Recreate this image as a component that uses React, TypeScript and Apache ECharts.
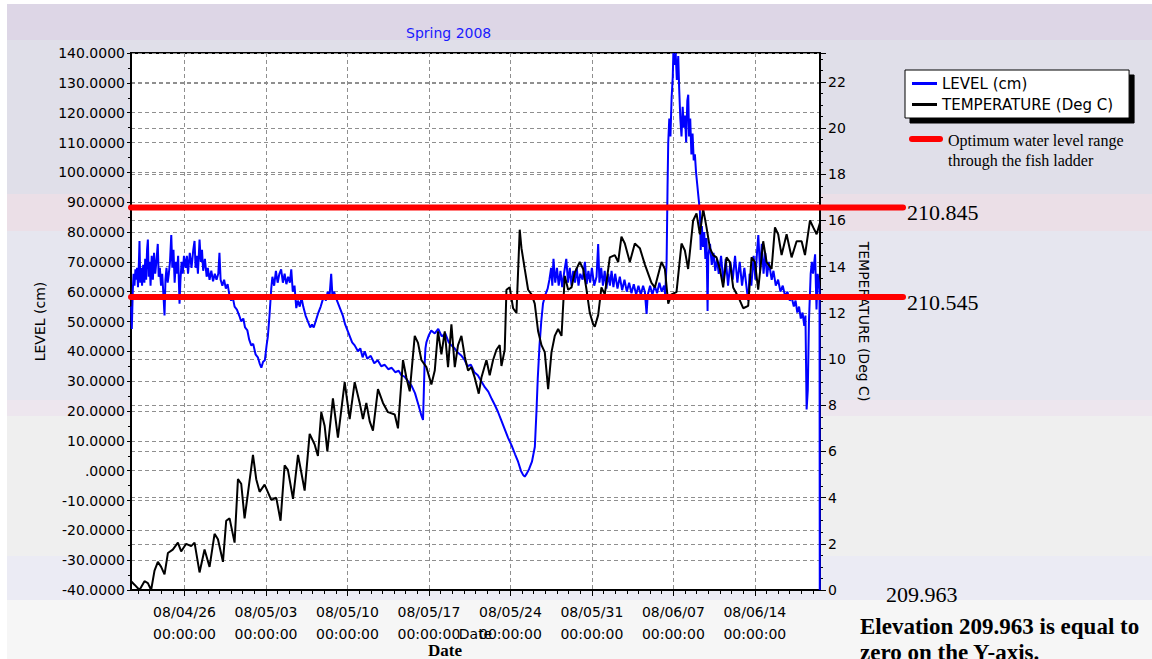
import React, { useEffect, useRef } from 'react';
import * as echarts from 'echarts';

// ---- time frame (days counted from 2008-04-21 00:00 UTC) ----
const START_UTC = Date.UTC(2008, 3, 21);
const DAY_MS = 86400000;
const X_MIN_DAY = 0.4;
const X_MAX_DAY = 59.6;
const weekTickDays = [5, 12, 19, 26, 33, 40, 47, 54];
const dayTickDays = [1, 2, 3, 4, 5, 6, 7, 8, 9, 10, 11, 12, 13, 14, 15, 16, 17, 18, 19, 20, 21, 22, 23, 24, 25, 26, 27, 28, 29, 30, 31, 32, 33, 34, 35, 36, 37, 38, 39, 40, 41, 42, 43, 44, 45, 46, 47, 48, 49, 50, 51, 52, 53, 54, 55, 56, 57, 58, 59];

// ---- axes ----
const levelAxis = { min: -40, max: 140, interval: 10 };
const tempAxis = { min: 0, max: 23.25, interval: 2 };

// ---- optimum range (cm above datum) and elevations ----
const optimumLevels = [88.2, 58.2];
const optimumLabels = ['210.845', '210.545'];
const datumElevation = '209.963';

// ---- LEVEL (cm): [day, value] ----
const levelSeries: [number, number][] = [
  [0.42, 55], [0.47, 47.5], [0.55, 60], [0.62, 66], [0.7, 62], [0.78, 67.5], [0.85, 64], [0.92, 68], [1.0, 61.5], [1.08, 70],
  [1.13, 77], [1.2, 63], [1.28, 68], [1.35, 62], [1.45, 69], [1.55, 63], [1.62, 71], [1.7, 64], [1.78, 74], [1.85, 77.5],
  [1.92, 65], [2.0, 70], [2.08, 62], [2.18, 72], [2.28, 64], [2.38, 73], [2.48, 66], [2.58, 70], [2.7, 76], [2.78, 65],
  [2.88, 68], [2.98, 62], [3.08, 66], [3.2, 58], [3.28, 52], [3.36, 64], [3.45, 68], [3.55, 63], [3.65, 66], [3.75, 70],
  [3.86, 79], [3.95, 68], [4.05, 74], [4.15, 63], [4.25, 70], [4.35, 66], [4.45, 72], [4.57, 56], [4.65, 64], [4.75, 70],
  [4.85, 66], [4.95, 72], [5.1, 68], [5.2, 72], [5.3, 66], [5.45, 73], [5.6, 68], [5.75, 74], [5.86, 77], [5.95, 68],
  [6.05, 72], [6.15, 66], [6.29, 77.5], [6.4, 70], [6.5, 74], [6.6, 67], [6.75, 71], [6.9, 65], [7.0, 68], [7.15, 64],
  [7.3, 67], [7.45, 63.5], [7.6, 66], [7.75, 64], [7.9, 66], [8.0, 73], [8.1, 64], [8.25, 62], [8.4, 64], [8.55, 61],
  [8.7, 62.5], [8.85, 59], [9.0, 57], [9.15, 58], [9.3, 55], [9.5, 54], [9.7, 52], [9.87, 50], [10.05, 51], [10.2, 48],
  [10.4, 47], [10.55, 44], [10.73, 42], [10.9, 42.5], [11.1, 39], [11.3, 38], [11.45, 36], [11.6, 34.5], [11.75, 36.5], [11.9, 37],
  [12.05, 42], [12.16, 45], [12.3, 52], [12.45, 61], [12.55, 65], [12.7, 62], [12.85, 67], [13.0, 63], [13.15, 66], [13.3, 67.5],
  [13.45, 63], [13.6, 66], [13.75, 62.5], [13.9, 65], [14.05, 63], [14.17, 67.5], [14.3, 60], [14.45, 62], [14.6, 54.5], [14.74, 57],
  [14.9, 55], [15.05, 58], [15.2, 55], [15.4, 52], [15.6, 50], [15.8, 48], [15.95, 49], [16.1, 48], [16.3, 50.5], [16.5, 53],
  [16.7, 55], [16.85, 57], [17.0, 59], [17.15, 57], [17.3, 60], [17.45, 58], [17.6, 66], [17.7, 59], [17.85, 60], [18.0, 58],
  [18.2, 56], [18.4, 54], [18.6, 52], [18.8, 49], [19.0, 47], [19.2, 45], [19.4, 43], [19.62, 42], [19.9, 40], [20.1, 41],
  [20.3, 38], [20.48, 40], [20.7, 37.5], [21.0, 38.5], [21.3, 36], [21.6, 37], [21.9, 35], [22.2, 35.5], [22.5, 34], [22.8, 34.5],
  [23.1, 33], [23.4, 33.5], [23.63, 32], [23.9, 31.5], [24.2, 30], [24.5, 28.5], [24.8, 26], [25.1, 22], [25.35, 18.5], [25.49, 17],
  [25.55, 25], [25.62, 35], [25.7, 41], [25.78, 43], [26.0, 45.5], [26.2, 47], [26.5, 46], [26.8, 47.5], [27.1, 45], [27.4, 46],
  [27.7, 43], [27.93, 42], [28.2, 41], [28.5, 39.5], [28.8, 38.5], [29.08, 37], [29.3, 35], [29.6, 35.5], [29.9, 33], [30.2, 32],
  [30.5, 30], [30.8, 28], [31.1, 26.5], [31.4, 24], [31.66, 22], [31.9, 20], [32.2, 17], [32.5, 14], [32.8, 11], [33.1, 8.5],
  [33.4, 5.5], [33.66, 3], [33.9, 0], [34.1, -1.5], [34.23, -2], [34.4, -1], [34.6, 0.5], [34.85, 3], [35.1, 8], [35.24, 20],
  [35.35, 31], [35.5, 42], [35.65, 50], [35.8, 56], [36.0, 59], [36.2, 61], [36.35, 64], [36.5, 68], [36.6, 62], [36.7, 71],
  [36.85, 63], [37.0, 68], [37.15, 62], [37.3, 67], [37.45, 61.5], [37.6, 66], [37.8, 71], [37.95, 63], [38.1, 68], [38.25, 62],
  [38.4, 67], [38.55, 63], [38.7, 68], [38.85, 62], [39.0, 66], [39.2, 64], [39.4, 70], [39.55, 62.5], [39.7, 67], [39.85, 63],
  [40.0, 68], [40.2, 62], [40.4, 65], [40.54, 76], [40.65, 63], [40.8, 68], [40.95, 62], [41.1, 67], [41.25, 61], [41.4, 66],
  [41.55, 62], [41.69, 67], [41.85, 61.5], [42.0, 66], [42.2, 61], [42.4, 65], [42.6, 60.5], [42.8, 64], [43.0, 60], [43.2, 63],
  [43.4, 59.5], [43.6, 62.5], [43.8, 59], [44.0, 62], [44.2, 59], [44.4, 62], [44.55, 60], [44.7, 52.5], [44.8, 59], [45.0, 62],
  [45.2, 59], [45.4, 62], [45.6, 59.5], [45.8, 63], [46.0, 60], [46.2, 62], [46.3, 59], [46.42, 70], [46.5, 95], [46.56, 110],
  [46.65, 118], [46.75, 112], [46.85, 125], [46.95, 132], [47.0, 140], [47.1, 136], [47.2, 140], [47.3, 131], [47.42, 139], [47.5, 128],
  [47.6, 118], [47.7, 112], [47.8, 122], [47.9, 115], [48.0, 119], [48.1, 110], [48.2, 124], [48.28, 126], [48.35, 112], [48.45, 118],
  [48.55, 106], [48.65, 113], [48.75, 104], [48.85, 106], [48.95, 100], [49.05, 96], [49.15, 92], [49.28, 87], [49.35, 74], [49.45, 82],
  [49.55, 75], [49.65, 80], [49.75, 71], [49.85, 78], [49.94, 53.5], [50.0, 72], [50.15, 76], [50.3, 69], [50.45, 73], [50.6, 67],
  [50.75, 71], [50.9, 66], [51.1, 72], [51.3, 63], [51.5, 71], [51.7, 62], [51.9, 70], [52.1, 64], [52.3, 72], [52.5, 63],
  [52.7, 70], [52.9, 62], [53.1, 68], [53.3, 61], [53.43, 57], [53.55, 66], [53.7, 62], [53.9, 72], [54.05, 64], [54.2, 74],
  [54.3, 79], [54.45, 67], [54.6, 76], [54.75, 66], [54.9, 73], [55.05, 65], [55.2, 70], [55.45, 64], [55.6, 67], [55.8, 62],
  [56.0, 64], [56.2, 60], [56.4, 62], [56.6, 58.5], [56.8, 60], [57.0, 57], [57.17, 58], [57.35, 55], [57.5, 57], [57.65, 53],
  [57.8, 55], [57.95, 51], [58.1, 53], [58.25, 48.5], [58.35, 52], [58.45, 20.5], [58.55, 27], [58.65, 50], [58.8, 66], [58.9, 70],
  [59.0, 66], [59.18, 72.5], [59.3, 54], [59.4, 66], [59.5, 63], [59.56, 60], [59.58, -40],
];

// ---- TEMPERATURE (Deg C): [day, value] ----
const tempSeries: [number, number][] = [
  [0.41, 0.38], [0.7, 0.23], [1.13, 0.0], [1.56, 0.38], [1.85, 0.3], [2.13, 0.0], [2.42, 0.84], [2.71, 1.22], [2.99, 1.0], [3.28, 0.68],
  [3.57, 1.6], [3.99, 1.75], [4.43, 2.05], [4.71, 1.67], [5.14, 2.0], [5.57, 1.9], [5.86, 2.05], [6.29, 0.76], [6.72, 1.75], [7.15, 1.0],
  [7.58, 2.43], [7.87, 2.2], [8.3, 1.22], [8.58, 3.0], [8.87, 3.1], [9.3, 2.05], [9.59, 4.8], [9.87, 4.6], [10.16, 3.1], [10.45, 4.2],
  [10.88, 5.85], [11.16, 4.8], [11.45, 4.25], [11.88, 4.56], [12.45, 3.9], [12.88, 4.0], [13.25, 3.0], [13.6, 5.4], [13.88, 5.2], [14.32, 3.95],
  [14.75, 5.85], [15.03, 5.1], [15.32, 4.3], [15.75, 6.76], [16.18, 6.3], [16.46, 5.8], [16.75, 7.7], [17.04, 7.1], [17.27, 6.0], [17.75, 8.3],
  [18.18, 6.6], [18.76, 9.0], [19.19, 7.4], [19.62, 9.0], [20.05, 8.1], [20.33, 7.4], [20.62, 8.1], [20.91, 7.3], [21.19, 6.9], [21.62, 8.7],
  [22.05, 8.1], [22.48, 7.7], [23.06, 7.6], [23.34, 7.0], [23.77, 9.96], [24.06, 9.2], [24.35, 8.6], [24.78, 11.0], [25.06, 10.7], [25.35, 9.96],
  [25.78, 9.65], [26.21, 8.9], [26.5, 9.5], [26.78, 11.2], [27.07, 10.2], [27.36, 11.2], [27.64, 9.65], [27.93, 11.5], [28.22, 9.65], [28.5, 10.6],
  [28.79, 11.0], [29.08, 10.1], [29.36, 9.5], [29.65, 9.65], [29.93, 9.2], [30.28, 8.5], [30.51, 9.2], [30.94, 9.96], [31.22, 9.3], [31.51, 9.96],
  [31.8, 10.4], [32.08, 10.6], [32.23, 9.7], [32.51, 10.4], [32.66, 13.0], [32.94, 13.1], [33.23, 12.2], [33.52, 12.0], [33.8, 15.6], [33.95, 14.8],
  [34.23, 13.9], [34.52, 13.0], [34.81, 12.8], [35.09, 12.4], [35.38, 11.2], [35.67, 10.6], [35.95, 10.3], [36.24, 8.7], [36.53, 10.3], [36.81, 11.0],
  [37.1, 11.3], [37.39, 11.0], [37.67, 13.6], [37.96, 13.0], [38.25, 13.1], [38.53, 13.75], [38.96, 14.2], [39.25, 13.9], [39.54, 13.0], [39.82, 12.0],
  [40.11, 11.5], [40.25, 11.4], [40.54, 11.9], [40.82, 13.1], [41.11, 12.8], [41.54, 14.4], [41.97, 14.5], [42.26, 14.2], [42.54, 15.3], [42.83, 15.0],
  [43.26, 14.2], [43.69, 15.0], [44.12, 14.8], [44.55, 14.1], [45.12, 13.3], [45.41, 13.1], [45.98, 14.2], [46.27, 13.9], [46.56, 12.4], [46.84, 12.8],
  [47.27, 12.9], [47.7, 15.0], [47.99, 14.7], [48.27, 13.9], [48.7, 16.0], [48.99, 16.3], [49.28, 15.4], [49.56, 16.5], [49.85, 15.7], [50.14, 14.8],
  [50.42, 14.5], [50.71, 14.4], [51.0, 13.9], [51.28, 13.1], [51.57, 14.4], [51.86, 14.2], [52.14, 13.1], [52.57, 12.7], [53.0, 12.2], [53.43, 12.3],
  [53.72, 14.4], [54.01, 14.2], [54.29, 13.0], [54.72, 15.1], [55.01, 14.2], [55.44, 13.9], [55.73, 15.7], [56.01, 15.4], [56.3, 14.5], [56.73, 15.4],
  [57.16, 14.4], [57.59, 15.1], [58.02, 15.1], [58.31, 14.5], [58.74, 16.0], [59.02, 15.7], [59.31, 15.4], [59.6, 15.9],
];

const SANS = 'DejaVu Sans';
const SERIF = 'Liberation Serif';

const pad2 = (n: number) => String(n).padStart(2, '0');
const dayLabel = (d: number) => {
  const t = new Date(START_UTC + Math.round(d) * DAY_MS);
  return `${pad2(t.getUTCFullYear() % 100)}/${pad2(t.getUTCMonth() + 1)}/${pad2(t.getUTCDate())}\n00:00:00`;
};

export default function App() {
  const ref = useRef<HTMLDivElement>(null);

  useEffect(() => {
    if (!ref.current) return;
    const chart = echarts.init(ref.current, null, { renderer: 'svg' });
    const dashed = { color: '#8f8f8f', type: [4, 3] as any, width: 1 };

    chart.setOption({
      animation: false,
      title: {
        text: 'Spring 2008',
        left: 401,
        top: 21,
        textStyle: { color: '#1a1aff', fontFamily: SANS, fontSize: 14, fontWeight: 'normal' },
      },
      legend: {
        orient: 'vertical',
        left: 905,
        top: 70,
        padding: [6, 16, 6, 7],
        itemGap: 6,
        itemWidth: 25,
        itemHeight: 3,
        backgroundColor: '#fff',
        borderColor: '#000',
        borderWidth: 1,
        borderRadius: 0,
        shadowColor: '#000',
        shadowBlur: 0,
        shadowOffsetX: 5,
        shadowOffsetY: 5,
        selectedMode: false,
        textStyle: { fontFamily: SANS, fontSize: 15, color: '#000' },
        data: [
          { name: 'LEVEL (cm)', icon: 'rect' },
          { name: 'TEMPERATURE (Deg C)', icon: 'rect' },
        ],
      },
      grid: {
        left: 131,
        top: 53,
        right: 332,
        bottom: 69,
        show: true,
        backgroundColor: '#fff',
        borderColor: '#000',
        borderWidth: 2,
        outerBoundsMode: 'none',
        containLabel: false,
      },
      xAxis: [
        {
          type: 'value',
          position: 'bottom',
          min: X_MIN_DAY,
          max: X_MAX_DAY,
          axisLine: { show: true, onZero: false, lineStyle: { color: '#000', width: 2 } },
          axisTick: { show: true, length: 6, customValues: weekTickDays, lineStyle: { color: '#000' } },
          axisLabel: {
            customValues: weekTickDays,
            margin: 11,
            fontFamily: SANS,
            fontSize: 14,
            lineHeight: 22,
            color: '#000',
            formatter: (v: number) => dayLabel(v),
          },
          splitLine: { show: true, lineStyle: dashed },
        },
        {
          type: 'value',
          position: 'bottom',
          min: X_MIN_DAY,
          max: X_MAX_DAY,
          axisLine: { show: false, onZero: false },
          axisTick: { show: true, length: 4, customValues: dayTickDays, lineStyle: { color: '#000' } },
          axisLabel: { show: false },
          splitLine: { show: false },
        },
      ],
      yAxis: [
        {
          type: 'value',
          position: 'left',
          min: levelAxis.min,
          max: levelAxis.max,
          interval: levelAxis.interval,
          name: 'LEVEL (cm)',
          nameLocation: 'middle',
          nameGap: 82,
          nameTextStyle: { fontFamily: SANS, fontSize: 14, color: '#000' },
          axisLine: { show: true, onZero: false, lineStyle: { color: '#000', width: 2 } },
          axisTick: { show: true, length: 4, lineStyle: { color: '#000' } },
          minorTick: { show: true, splitNumber: 2, length: 3, lineStyle: { color: '#000' } },
          axisLabel: {
            margin: 6,
            fontFamily: SANS,
            fontSize: 14,
            color: '#000',
            formatter: (v: number) => (v === 0 ? '.0000' : v.toFixed(4)),
          },
          splitLine: { show: true, lineStyle: dashed },
        },
        {
          type: 'value',
          position: 'right',
          min: tempAxis.min,
          max: tempAxis.max,
          interval: tempAxis.interval,
          name: 'TEMPERATURE (Deg C)',
          nameLocation: 'middle',
          nameRotate: -90,
          nameGap: 35,
          nameTextStyle: { fontFamily: SANS, fontSize: 14, color: '#000' },
          axisLine: { show: true, onZero: false, lineStyle: { color: '#000', width: 2 } },
          axisTick: { show: true, length: 6, lineStyle: { color: '#000' } },
          minorTick: { show: true, splitNumber: 4, length: 3, lineStyle: { color: '#000' } },
          axisLabel: {
            margin: 8,
            fontFamily: SANS,
            fontSize: 14,
            color: '#000',
            showMaxLabel: false,
            formatter: (v: number) => (Number.isInteger(v) ? String(v) : ''),
          },
          splitLine: { show: true, lineStyle: dashed },
        },
      ],
      series: [
        {
          name: 'LEVEL (cm)',
          type: 'line',
          xAxisIndex: 0,
          yAxisIndex: 0,
          data: levelSeries,
          showSymbol: false,
          symbol: 'none',
          lineStyle: { color: '#0000ff', width: 2 },
          itemStyle: { color: '#0000ff' },
          z: 2,
        },
        {
          name: 'TEMPERATURE (Deg C)',
          type: 'line',
          xAxisIndex: 0,
          yAxisIndex: 1,
          data: tempSeries,
          showSymbol: false,
          symbol: 'none',
          lineStyle: { color: '#000', width: 2 },
          itemStyle: { color: '#000' },
          z: 3,
        },
      ],
    });

    const xLeft = chart.convertToPixel({ xAxisIndex: 0 }, X_MIN_DAY) as number;
    const xMid = chart.convertToPixel({ xAxisIndex: 0 }, (X_MIN_DAY + X_MAX_DAY) / 2) as number;
    const yBottom = chart.convertToPixel({ yAxisIndex: 0 }, levelAxis.min) as number;
    const graphics: any[] = [];
    optimumLevels.forEach((lv, i) => {
      const y = chart.convertToPixel({ yAxisIndex: 0 }, lv) as number;
      graphics.push({
        type: 'line',
        z: 100,
        shape: { x1: xLeft, y1: y, x2: 903, y2: y },
        style: { stroke: '#ff0000', lineWidth: 6, lineCap: 'round' },
      });
      graphics.push({
        type: 'text',
        z: 100,
        x: 907,
        y: y + 5,
        style: { text: optimumLabels[i], fontFamily: SERIF, fontSize: 22, fill: '#000', verticalAlign: 'middle', align: 'left' },
      });
    });
    graphics.push(
      {
        type: 'line',
        z: 100,
        shape: { x1: 912, y1: 139, x2: 940, y2: 139 },
        style: { stroke: '#ff0000', lineWidth: 6, lineCap: 'round' },
      },
      {
        type: 'text',
        z: 100,
        x: 948,
        y: 140,
        style: { text: 'Optimum water level range', fontFamily: SERIF, fontSize: 16, fill: '#000', verticalAlign: 'middle' },
      },
      {
        type: 'text',
        z: 100,
        x: 948,
        y: 160,
        style: { text: 'through the fish ladder', fontFamily: SERIF, fontSize: 16, fill: '#000', verticalAlign: 'middle' },
      },
      {
        type: 'text',
        z: 100,
        x: xMid,
        y: yBottom + 44,
        style: { text: 'Date', fontFamily: SANS, fontSize: 14, fill: '#000', verticalAlign: 'middle', align: 'center' },
      },
      {
        type: 'text',
        z: 100,
        x: 886,
        y: yBottom + 4,
        style: { text: datumElevation, fontFamily: SERIF, fontSize: 22, fill: '#000', verticalAlign: 'middle' },
      },
      {
        type: 'text',
        z: 100,
        x: 860,
        y: 626,
        style: { text: `Elevation ${datumElevation} is equal to`, fontFamily: SERIF, fontSize: 23, fontWeight: 'bold', fill: '#000', verticalAlign: 'middle' },
      },
      {
        type: 'text',
        z: 100,
        x: 860,
        y: 652,
        style: { text: 'zero on the Y-axis.', fontFamily: SERIF, fontSize: 23, fontWeight: 'bold', fill: '#000', verticalAlign: 'middle' },
      },
      {
        type: 'text',
        z: 100,
        x: 428,
        y: 650,
        style: { text: 'Date', fontFamily: SERIF, fontSize: 17, fontWeight: 'bold', fill: '#000', verticalAlign: 'middle' },
      }
    );
    chart.setOption({ graphic: graphics });

    return () => chart.dispose();
  }, []);

  const bg =
    'linear-gradient(to bottom, #ffffff 0px, #ffffff 4px, #ddd6e6 4px, #ddd6e6 40px, #e0dfe9 40px, #e0dfe9 194px, #ebdfe7 194px, #ebdfe7 231px, #e6e6ef 231px, #e6e6ef 400px, #ede6ee 400px, #ede6ee 416px, #efefef 416px, #efefef 556px, #ebebf4 556px, #ebebf4 600px, #f6f6f6 600px, #f6f6f6 659px)';

  return (
    <div style={{ position: 'fixed', left: 0, top: 0, width: 1152, height: 659, background: '#fff', overflow: 'hidden' }}>
      <div style={{ position: 'absolute', left: 7, top: 0, right: 0, bottom: 0, background: bg }} />
      <div ref={ref} style={{ position: 'absolute', left: 0, top: 0, width: 1152, height: 659 }} />
    </div>
  );
}
